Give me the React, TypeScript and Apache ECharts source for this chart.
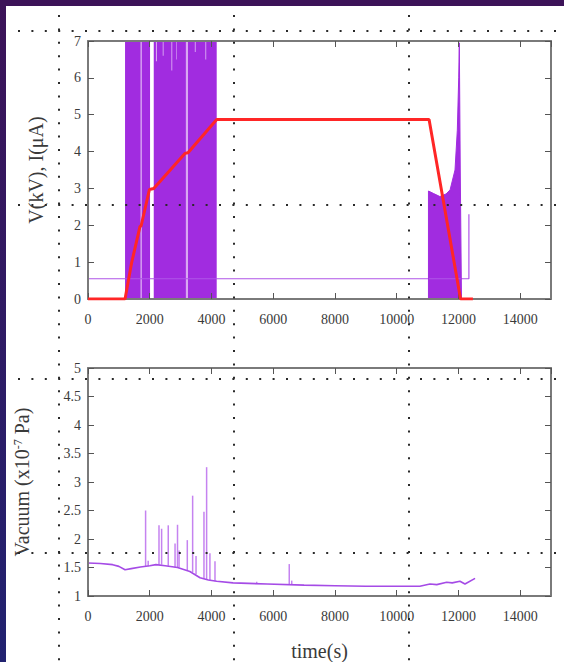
import React, { useEffect, useRef } from "react";
import * as echarts from "echarts";

// ---- data ----
const voltage = [
  [0, 0], [1200, 0], [1410, 0.97], [1685, 1.97], [1720, 1.98], [1990, 2.97],
  [2130, 3.0], [3140, 3.95], [3240, 3.97], [4170, 4.87], [11050, 4.87],
  [12070, 0], [12470, 0],
];
const currentBaseline = [[0, 0.55], [12340, 0.55], [12340, 2.3]];
// saturated current regions [x0, x1, yLow, yHigh]
const currentBands = [[1200, 2010, 0, 7], [2130, 4170, 0, 7]];
const currentStripes = [
  [1700, 1745, 0, 7], [3170, 3240, 0, 7], [2200, 2235, 6.45, 7],
  [2420, 2450, 6.6, 7], [2700, 2730, 6.2, 7], [2860, 2880, 6.5, 7],
  [3460, 3490, 6.7, 7], [3800, 3830, 6.5, 7],
];
const currentTail = [
  [11030, 0], [11030, 2.93], [11200, 2.86], [11400, 2.78], [11600, 2.85],
  [11730, 2.96], [11890, 3.5], [11965, 4.58], [12010, 6.0], [12030, 6.95],
  [12060, 3.5], [12100, 0],
];
const vacuumBase = [
  [0, 1.58], [400, 1.57], [800, 1.55], [1000, 1.52], [1200, 1.46], [1400, 1.48],
  [1700, 1.51], [2000, 1.53], [2200, 1.55], [2500, 1.53], [2900, 1.5],
  [3300, 1.43], [3630, 1.32], [3900, 1.28], [4170, 1.26], [4700, 1.23],
  [5800, 1.21], [7000, 1.19], [8000, 1.18], [9000, 1.17], [10000, 1.17],
  [10750, 1.17], [11080, 1.21], [11300, 1.2], [11620, 1.24], [11800, 1.23],
  [12050, 1.26], [12213, 1.21], [12540, 1.31],
];
// spikes [x, base, top]
const vacuumSpikes = [
  [1866, 1.52, 2.5], [1950, 1.52, 1.62], [2300, 1.55, 2.24], [2385, 1.55, 2.18],
  [2600, 1.53, 2.24], [2820, 1.5, 1.92], [2900, 1.5, 2.25], [2950, 1.5, 1.8],
  [3217, 1.44, 1.98], [3390, 1.42, 2.76], [3500, 1.38, 1.7], [3757, 1.3, 2.48],
  [3843, 1.29, 3.26], [3950, 1.28, 1.75], [4114, 1.26, 1.61], [5465, 1.21, 1.25],
  [6520, 1.2, 1.56], [6600, 1.2, 1.27],
];

const FONT = "Liberation Serif";
const PURPLE = "#a12ce0";
const AXIS_GRAY = "#7a7a7a";

function xAxisDef(grid: number, top: boolean, name?: string) {
  return {
    type: "value", gridIndex: grid, position: top ? "top" : "bottom",
    min: 0, max: 15000, interval: 2000, z: 3,
    axisLine: { show: true, onZero: false, lineStyle: { color: AXIS_GRAY, width: 2 } },
    axisTick: { show: true, inside: true, length: 6, lineStyle: { color: "#555", width: 1 } },
    axisLabel: {
      show: !top, showMaxLabel: false, margin: 13, color: "#3a3a3a", fontFamily: FONT, fontSize: 14,
      formatter: (v: number) => String(v),
    },
    splitLine: { show: false },
    name: name || "", nameLocation: "middle", nameGap: 45,
    nameTextStyle: { fontFamily: FONT, fontSize: 20, color: "#3a3a3a" },
  };
}
function yAxisDef(grid: number, right: boolean, min: number, max: number, interval: number, name?: string, gap = 42) {
  return {
    type: "value", gridIndex: grid, position: right ? "right" : "left",
    min, max, interval, z: 3,
    axisLine: { show: true, onZero: false, lineStyle: { color: AXIS_GRAY, width: 2 } },
    axisTick: { show: true, inside: true, length: 6, lineStyle: { color: "#555", width: 1 } },
    axisLabel: { show: !right, margin: 7, color: "#3a3a3a", fontFamily: FONT, fontSize: 14, formatter: (v: number) => String(v) },
    splitLine: { show: false },
    name: name || "", nameLocation: "middle", nameGap: gap, nameRotate: 90,
    nameTextStyle: {
      fontFamily: FONT, fontSize: 20, color: "#3a3a3a",
      rich: { sup: { fontFamily: FONT, fontSize: 12, color: "#3a3a3a", verticalAlign: "top", lineHeight: 12 } },
    },
  };
}

function rectSeries(data: number[][], color: string, z: number) {
  return {
    type: "custom", xAxisIndex: 0, yAxisIndex: 0, clip: true, z,
    data, encode: { x: [0, 1], y: [2, 3] },
    renderItem: (_p: any, api: any) => {
      const a = api.coord([api.value(0), api.value(3)]);
      const b = api.coord([api.value(1), api.value(2)]);
      return { type: "rect", shape: { x: a[0], y: a[1], width: b[0] - a[0], height: b[1] - a[1] }, style: { fill: color } };
    },
  };
}

function dotted(x1: number, y1: number, x2: number, y2: number) {
  return {
    type: "line", z: 100, silent: true,
    shape: { x1, y1, x2, y2 },
    style: { stroke: "#2a2a2a", lineWidth: 2, lineDash: [2, 11.4] },
  };
}

export default function App() {
  const ref = useRef<HTMLDivElement>(null);
  useEffect(() => {
    if (!ref.current) return;
    const chart = echarts.init(ref.current, null, { renderer: "svg" });
    chart.setOption({
      animation: false,
      backgroundColor: "#ffffff",
      grid: [
        { left: 88, top: 41, width: 463, height: 258 },
        { left: 88, top: 368, width: 463, height: 230 },
      ],
      xAxis: [
        xAxisDef(0, false), xAxisDef(0, true),
        xAxisDef(1, false, "time(s)"), xAxisDef(1, true),
      ],
      yAxis: [
        yAxisDef(0, false, 0, 7, 1, "V(kV), I(μA)", 42), yAxisDef(0, true, 0, 7, 1),
        yAxisDef(1, false, 1, 5, 0.5, "Vacuum (x10{sup|-7} Pa)", 56), yAxisDef(1, true, 1, 5, 0.5),
      ],
      series: [
        {
          type: "line", xAxisIndex: 0, yAxisIndex: 0, data: currentBaseline, showSymbol: false,
          lineStyle: { color: "#b055e8", width: 1.2 }, z: 2,
        },
        rectSeries(currentBands, PURPLE, 2),
        rectSeries(currentStripes, "#d9a8f2", 2),
        {
          type: "line", xAxisIndex: 0, yAxisIndex: 0, data: currentTail, showSymbol: false,
          lineStyle: { color: PURPLE, width: 1 }, areaStyle: { color: PURPLE, opacity: 1 }, z: 2,
        },
        {
          type: "line", xAxisIndex: 0, yAxisIndex: 0, data: voltage, showSymbol: false,
          lineStyle: { color: "#ff2626", width: 3 }, z: 4,
        },
        {
          type: "line", xAxisIndex: 2, yAxisIndex: 2, data: vacuumBase, showSymbol: false,
          lineStyle: { color: "#a54be6", width: 1.6 }, z: 2,
        },
        {
          type: "custom", xAxisIndex: 2, yAxisIndex: 2, clip: true, z: 2,
          data: vacuumSpikes, encode: { x: 0, y: [1, 2] },
          renderItem: (_p: any, api: any) => {
            const a = api.coord([api.value(0), api.value(1)]);
            const b = api.coord([api.value(0), api.value(2)]);
            return { type: "line", shape: { x1: a[0], y1: a[1], x2: b[0], y2: b[1] }, style: { stroke: "#c583f0", lineWidth: 1.5 } };
          },
        },
      ],
      graphic: [
        { type: "rect", z: 50, silent: true, shape: { x: 0, y: 0, width: 564, height: 6 }, style: { fill: "#3c1358" } },
        {
          type: "rect", z: 50, silent: true, shape: { x: 0, y: 0, width: 6, height: 662 },
          style: { fill: new echarts.graphic.LinearGradient(0, 0, 0, 1, [
            { offset: 0, color: "#3c1358" }, { offset: 1, color: "#212270" },
          ]) },
        },
        dotted(18, 31, 564, 31), dotted(18, 205, 564, 205),
        dotted(18, 379, 564, 379), dotted(18, 553, 564, 553),
        dotted(59, 15, 59, 662), dotted(234, 15, 234, 662), dotted(409, 15, 409, 662),
      ],
    });
    return () => chart.dispose();
  }, []);
  return <div ref={ref} style={{ position: "fixed", left: 0, top: 0, width: 564, height: 662 }} />;
}
